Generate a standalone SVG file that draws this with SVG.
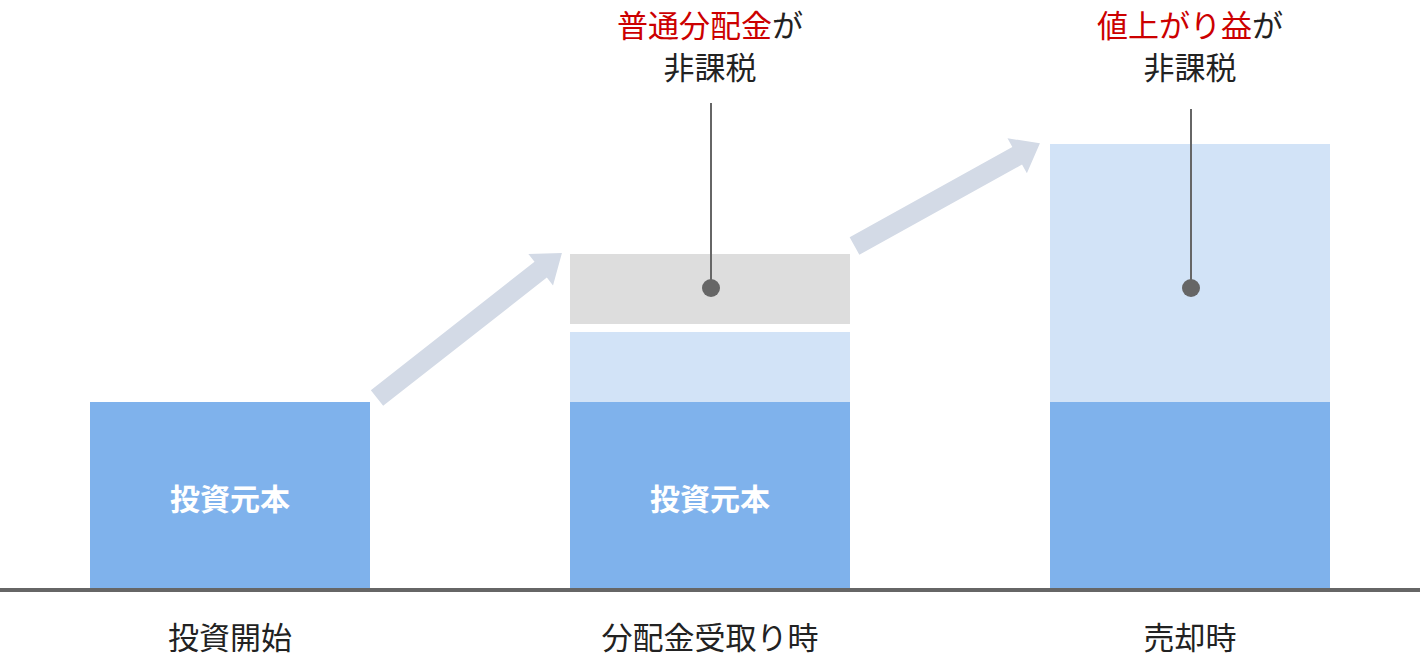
<svg xmlns="http://www.w3.org/2000/svg" width="1420" height="660" viewBox="0 0 1420 660">
<style>
.t{font-family:"Noto Sans CJK JP","Noto Sans",sans-serif;font-size:31px;fill:#222;text-anchor:middle}
.r{fill:#CC0000}
.w{fill:#fff;font-weight:bold;font-size:30px}
.base{fill:#7FB2EC}
.gain{fill:#D2E3F7}
.dist{fill:#DDDDDD}
.arrow{fill:#D3DAE6}
.lead{stroke:#666;stroke-width:2;fill:none}
.dot{fill:#666}
</style>
<rect width="1420" height="660" fill="#fff"/>
<g id="connectors">
<path class="arrow" transform="translate(377,398) rotate(-38.1)" d="M0,-10 L208,-10 L208,-20 L235,0 L208,20 L208,10 L0,10 Z"/>
<path class="arrow" transform="translate(854.5,246) rotate(-29)" d="M0,-10 L186,-10 L186,-20 L212,0 L186,20 L186,10 L0,10 Z"/>
</g>
<g id="bar1">
<rect class="base" x="90" y="402" width="280" height="187"/>
<text class="t w" x="230" y="497" dominant-baseline="central">投資元本</text>
</g>
<g id="bar2">
<rect class="dist" x="570" y="254" width="280" height="70"/>
<rect class="gain" x="570" y="332" width="280" height="70"/>
<rect class="base" x="570" y="402" width="280" height="187"/>
<text class="t w" x="710" y="497" dominant-baseline="central">投資元本</text>
</g>
<g id="bar3">
<rect class="gain" x="1050" y="144" width="280" height="258"/>
<rect class="base" x="1050" y="402" width="280" height="187"/>
</g>
<g id="baseline">
<rect x="0" y="588" width="1420" height="4" fill="#666"/>
</g>
<g id="label1">
<text class="t" x="710" y="23" dominant-baseline="central"><tspan class="r">普通分配金</tspan>が</text>
<text class="t" x="710" y="65" dominant-baseline="central">非課税</text>
<line class="lead" x1="711" y1="103" x2="711" y2="288"/>
<circle class="dot" cx="711" cy="288" r="9"/>
</g>
<g id="label2">
<text class="t" x="1190" y="23" dominant-baseline="central"><tspan class="r">値上がり益</tspan>が</text>
<text class="t" x="1190" y="65" dominant-baseline="central">非課税</text>
<line class="lead" x1="1191" y1="109" x2="1191" y2="288"/>
<circle class="dot" cx="1191" cy="288" r="9"/>
</g>
<g id="xlabels">
<text class="t" x="230" y="635" dominant-baseline="central">投資開始</text>
<text class="t" x="710" y="635" dominant-baseline="central">分配金受取り時</text>
<text class="t" x="1190" y="635" dominant-baseline="central">売却時</text>
</g>
</svg>
